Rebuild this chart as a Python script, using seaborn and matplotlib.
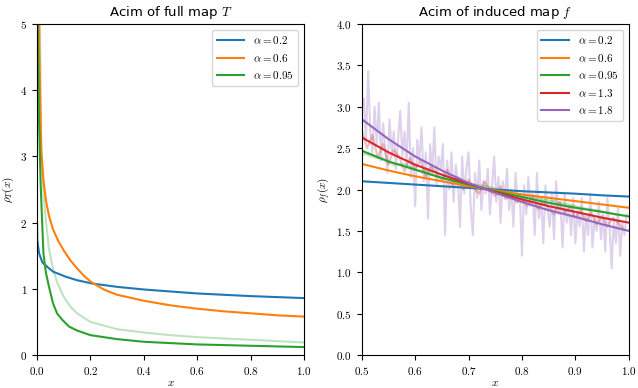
import numpy as np
import seaborn as sns
import matplotlib
matplotlib.use("Agg")
import matplotlib.pyplot as plt
from matplotlib.ticker import FuncFormatter, MultipleLocator

# full map T (left panel)
x_blue = [0.0002, 0.001, 0.0075, 0.02, 0.039, 0.06, 0.11, 0.15, 0.207, 0.3, 0.4, 0.5, 0.6, 0.7, 0.8, 0.9, 1.0]
y_blue = [2.0, 1.74, 1.54, 1.40, 1.33, 1.26, 1.18, 1.13, 1.08, 1.03, 0.99, 0.96, 0.93, 0.91, 0.89, 0.875, 0.86]

x_orange = [0.0075, 0.011, 0.016, 0.025, 0.035, 0.045, 0.06, 0.08, 0.1, 0.125, 0.15, 0.175, 0.2,
            0.25, 0.3, 0.4, 0.5, 0.6, 0.7, 0.8, 0.9, 1.0]
y_orange = [5.05, 4.05, 3.1, 2.6, 2.3, 2.1, 1.9, 1.72, 1.58, 1.43, 1.31, 1.2, 1.11,
            0.99, 0.91, 0.82, 0.75, 0.70, 0.66, 0.63, 0.60, 0.58]

x_green = [0.0025, 0.0075, 0.014, 0.024, 0.033, 0.045, 0.06, 0.075, 0.095, 0.12, 0.15, 0.2,
           0.3, 0.4, 0.5, 0.6, 0.7, 0.8, 0.9, 1.0]
y_green = [5.05, 3.55, 2.54, 1.54, 1.25, 1.03, 0.78, 0.63, 0.53, 0.43, 0.37, 0.30,
           0.24, 0.20, 0.18, 0.16, 0.15, 0.14, 0.13, 0.12]

x_green_num = [0.011, 0.016, 0.025, 0.033, 0.045, 0.06, 0.075, 0.1, 0.125, 0.15, 0.2, 0.3,
               0.4, 0.5, 0.6, 0.7, 0.8, 0.9, 1.0]
y_green_num = [5.05, 3.05, 2.4, 2.04, 1.6, 1.3, 1.1, 0.88, 0.73, 0.63, 0.50, 0.39,
               0.34, 0.30, 0.27, 0.25, 0.23, 0.21, 0.19]

# induced map f (right panel)
x_f = [0.5, 0.55, 0.6, 0.65, 0.7, 0.75, 0.8, 0.85, 0.9, 0.95, 1.0]
f_curves = {
    "0.2": [2.10, 2.08, 2.06, 2.04, 2.02, 2.00, 1.98, 1.965, 1.95, 1.93, 1.915],
    "0.6": [2.31, 2.23, 2.16, 2.10, 2.04, 1.99, 1.94, 1.90, 1.86, 1.82, 1.78],
    "0.95": [2.47, 2.34, 2.24, 2.14, 2.06, 1.98, 1.91, 1.84, 1.78, 1.73, 1.675],
    "1.3": [2.63, 2.45, 2.30, 2.18, 2.07, 1.97, 1.88, 1.80, 1.73, 1.66, 1.60],
    "1.8": [2.85, 2.61, 2.40, 2.23, 2.08, 1.96, 1.85, 1.75, 1.67, 1.58, 1.50],
}

# histogram of alpha = 1.8 (noisy), bins of 0.004 from 0.5
hist_purple = [
    2.95, 3.10, 2.60, 3.43, 2.70, 2.45, 3.00, 2.55, 3.05, 2.35,
    2.80, 2.50, 2.20, 2.85, 2.45, 2.70, 2.25, 2.60, 2.95, 2.40,
    2.70, 2.30, 3.05, 2.15, 2.50, 1.80, 2.60, 2.35, 2.75, 2.10,
    2.45, 1.65, 2.55, 2.20, 2.75, 2.05, 2.40, 2.25, 2.55, 1.45,
    2.35, 2.00, 2.45, 1.85, 2.30, 2.10, 1.55, 2.40, 1.95, 2.25,
    2.45, 1.80, 1.45, 2.20, 1.90, 2.35, 1.75, 2.10, 1.95, 2.25,
    1.70, 2.05, 2.40, 1.85, 2.15, 1.60, 2.10, 1.90, 2.25, 1.75,
    2.00, 1.55, 2.20, 1.85, 1.95, 1.20, 2.05, 1.70, 2.15, 1.80,
    1.95, 1.45, 2.20, 1.65, 1.90, 1.35, 2.05, 1.75, 1.55, 1.95,
    1.40, 2.10, 1.70, 1.85, 1.30, 1.95, 1.60, 1.80, 1.45, 1.90,
    1.35, 1.75, 1.55, 1.90, 1.25, 1.70, 1.45, 1.95, 1.30, 1.65,
    1.50, 1.85, 1.40, 1.70, 1.25, 1.90, 1.55, 1.05, 1.65, 1.35,
    1.80, 1.20, 1.60, 1.45, 1.70,
]
# histogram of alpha = 1.3, bins of 0.01
hist_red = [
    2.72, 2.50, 2.66, 2.38, 2.55, 2.30, 2.48, 2.40, 2.22, 2.38,
    2.25, 2.35, 2.15, 2.28, 2.20, 2.10, 2.24, 2.05, 2.15, 2.00,
    2.12, 2.02, 1.95, 2.10, 1.98, 1.92, 2.04, 1.88, 1.96, 1.84,
    1.90, 1.80, 1.93, 1.76, 1.85, 1.78, 1.70, 1.84, 1.72, 1.80,
    1.66, 1.75, 1.62, 1.72, 1.58, 1.68, 1.55, 1.66, 1.60, 1.52,
]
# histogram of alpha = 0.95, bins of 0.02
hist_green = [
    2.44, 2.40, 2.36, 2.30, 2.31, 2.24, 2.22, 2.16, 2.15, 2.10,
    2.07, 2.05, 2.03, 1.99, 1.97, 1.93, 1.92, 1.88, 1.86, 1.83,
    1.80, 1.77, 1.75, 1.72, 1.69,
]

plt.rcParams["mathtext.fontset"] = "cm"
plt.rcParams["font.family"] = ["DejaVu Sans"]

pal = sns.color_palette("tab10")
fig = plt.figure(figsize=(6.38, 3.88), dpi=100)
ax1 = fig.add_axes([0.058, 0.085, 0.4185, 0.853])
ax2 = fig.add_axes([0.567, 0.085, 0.4185, 0.853])

# left panel
sns.lineplot(x=x_green_num, y=y_green_num, ax=ax1, color=pal[2], alpha=0.3, lw=1.5)
sns.lineplot(x=x_blue, y=y_blue, ax=ax1, color=pal[0], lw=1.5, label=r"$\alpha = 0.2$")
sns.lineplot(x=x_orange, y=y_orange, ax=ax1, color=pal[1], lw=1.5, label=r"$\alpha = 0.6$")
sns.lineplot(x=x_green, y=y_green, ax=ax1, color=pal[2], lw=1.5, label=r"$\alpha = 0.95$")
ax1.set_xlim(0, 1)
ax1.set_ylim(0, 5)
ax1.xaxis.set_major_locator(MultipleLocator(0.2))
ax1.yaxis.set_major_locator(MultipleLocator(1))
ax1.xaxis.set_major_formatter(FuncFormatter(lambda v, p: f"${v:.1f}$"))
ax1.yaxis.set_major_formatter(FuncFormatter(lambda v, p: f"${v:.0f}$"))
ax1.set_title(r"Acim of full map $T$", fontsize=9.5)
ax1.set_xlabel(r"$x$", fontsize=8, labelpad=1)
ax1.set_ylabel(r"$\rho_T(x)$", fontsize=8, labelpad=3)
ax1.legend(loc="upper right", fontsize=8, handlelength=2.5)

# right panel
xp = 0.5 + 0.004 * np.arange(len(hist_purple))
xr = 0.5 + 0.01 * np.arange(len(hist_red))
xg = 0.5 + 0.02 * np.arange(len(hist_green))
sns.lineplot(x=xp, y=hist_purple, ax=ax2, color=pal[4], alpha=0.3, lw=1.5)
sns.lineplot(x=xr, y=hist_red, ax=ax2, color=pal[3], alpha=0.3, lw=1.5)
sns.lineplot(x=xg, y=hist_green, ax=ax2, color=pal[2], alpha=0.3, lw=1.5)
for i, (a, vals) in enumerate(f_curves.items()):
    sns.lineplot(x=x_f, y=vals, ax=ax2, color=pal[i], lw=1.5, label=rf"$\alpha = {a}$")
ax2.set_xlim(0.5, 1)
ax2.set_ylim(0, 4)
ax2.xaxis.set_major_locator(MultipleLocator(0.1))
ax2.yaxis.set_major_locator(MultipleLocator(0.5))
ax2.xaxis.set_major_formatter(FuncFormatter(lambda v, p: f"${v:.1f}$"))
ax2.yaxis.set_major_formatter(FuncFormatter(lambda v, p: f"${v:.1f}$"))
ax2.set_title(r"Acim of induced map $f$", fontsize=9.5)
ax2.set_xlabel(r"$x$", fontsize=8, labelpad=1)
ax2.set_ylabel(r"$\rho_f(x)$", fontsize=8, labelpad=3)
ax2.legend(loc="upper right", fontsize=8, handlelength=2.5)

for ax in (ax1, ax2):
    ax.tick_params(labelsize=8)

fig.savefig("out.png", dpi=100)
